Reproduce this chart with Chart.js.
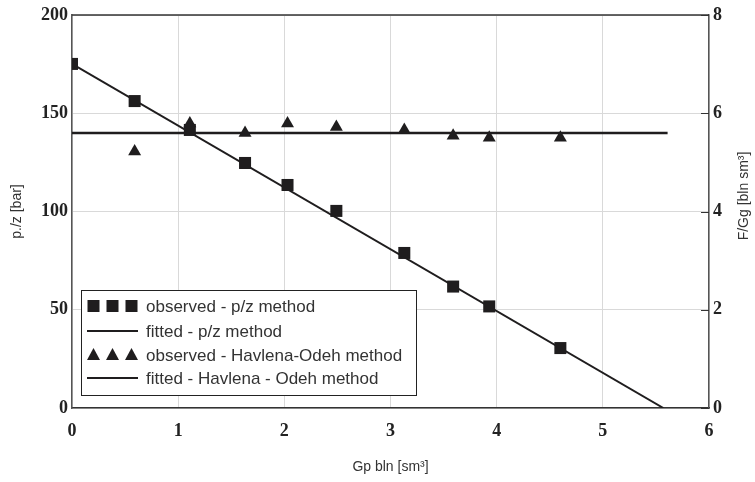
<!DOCTYPE html>
<html>
<head>
<meta charset="utf-8">
<script src="https://cdn.jsdelivr.net/npm/chart.js@4"></script>
<style>
  html, body { margin: 0; padding: 0; background: #fff; }
  #wrap { width: 755px; height: 482px; }
</style>
</head>
<body>
<div id="wrap"><canvas id="myChart" width="755" height="482"></canvas></div>
<script>
// cumulative production Gp [bln sm3]
var gp = [0, 0.59, 1.11, 1.63, 2.03, 2.49, 3.13, 3.59, 3.93, 4.60];
// observed p/z [bar]
var pz = [175.1, 156.2, 141.5, 124.7, 113.5, 100.3, 78.9, 61.8, 51.7, 30.5];
// Havlena-Odeh points (no point at Gp = 0)
var gpHO = [0.59, 1.11, 1.63, 2.03, 2.49, 3.13, 3.59, 3.93, 4.60];
var fgg = [5.22, 5.79, 5.60, 5.79, 5.72, 5.66, 5.54, 5.50, 5.50];
// fitted lines (end points)
var pzFitX = [0, 5.57];
var pzFitY = [175.1, 0];
var hoFitX = [0, 5.61];
var hoFitY = [5.60, 5.60];

var xTicks = [0, 1, 2, 3, 4, 5, 6];
var leftTicks = [0, 50, 100, 150, 200];
var rightTicks = [0, 2, 4, 6, 8];

var ink = '#1f1d1e';
var tickFont = { family: 'Liberation Serif', size: 18, weight: 'bold' };
var titleFont = { family: 'Liberation Sans', size: 14 };

function pairs(xs, ys) {
  return xs.map(function (x, i) { return { x: x, y: ys[i] }; });
}

const data = {
  datasets: [
    {
      label: 'observed - p/z method',
      data: pairs(gp, pz),
      yAxisID: 'y',
      pointStyle: 'rect',
      pointRadius: 8.5,
      backgroundColor: ink,
      borderColor: ink,
      borderWidth: 0,
      showLine: false,
      order: 1
    },
    {
      label: 'fitted - p/z method',
      data: pairs(pzFitX, pzFitY),
      yAxisID: 'y',
      showLine: true,
      pointRadius: 0,
      borderColor: ink,
      borderWidth: 2,
      order: 2
    },
    {
      label: 'observed - Havlena-Odeh method',
      data: pairs(gpHO, fgg),
      yAxisID: 'y2',
      pointStyle: 'triangle',
      pointRadius: 7.5,
      backgroundColor: ink,
      borderColor: ink,
      borderWidth: 0,
      showLine: false,
      order: 1
    },
    {
      label: 'fitted - Havlena - Odeh method',
      data: pairs(hoFitX, hoFitY),
      yAxisID: 'y2',
      showLine: true,
      pointRadius: 0,
      borderColor: ink,
      borderWidth: 2.5,
      order: 2
    }
  ]
};

// frame, inner ticks on right axis, right title and legend box
const extras = {
  id: 'extras',
  afterDraw: function (chart) {
    var c = chart.ctx, a = chart.chartArea;
    var y2 = chart.scales.y2;
    c.save();
    // top frame line
    c.strokeStyle = '#333';
    c.lineWidth = 1.5;
    c.beginPath();
    c.moveTo(a.left, a.top);
    c.lineTo(a.right, a.top);
    c.stroke();
    // short tick marks inside right axis
    c.lineWidth = 1;
    rightTicks.forEach(function (v) {
      var py = Math.round(y2.getPixelForValue(v)) + 0.5;
      c.beginPath();
      c.moveTo(a.right - 8, py);
      c.lineTo(a.right, py);
      c.stroke();
    });
    // right axis title, reading bottom-to-top
    c.fillStyle = '#333';
    c.font = '14px "Liberation Sans"';
    c.textAlign = 'center';
    c.textBaseline = 'middle';
    c.translate(744, 196);
    c.rotate(-Math.PI / 2);
    c.fillText('F/Gg [bln sm³]', 0, 0);
    c.restore();

    // legend
    c.save();
    var bx = 81, by = 290, bw = 335, bh = 105;
    c.fillStyle = '#fff';
    c.fillRect(bx, by, bw, bh);
    c.strokeStyle = '#222';
    c.lineWidth = 1;
    c.strokeRect(bx + 0.5, by + 0.5, bw, bh);
    var rows = [306, 331, 355, 378];
    var cx = [93.5, 112.5, 131.5];
    c.font = '17px "Liberation Sans"';
    c.textAlign = 'left';
    c.textBaseline = 'middle';
    chart.data.datasets.forEach(function (ds, i) {
      var ry = rows[i];
      c.fillStyle = ink;
      c.strokeStyle = ink;
      if (ds.pointStyle === 'rect') {
        cx.forEach(function (x) { c.fillRect(x - 6, ry - 6, 12, 12); });
      } else if (ds.pointStyle === 'triangle') {
        cx.forEach(function (x) {
          c.beginPath();
          c.moveTo(x, ry - 7);
          c.lineTo(x + 6.5, ry + 5);
          c.lineTo(x - 6.5, ry + 5);
          c.closePath();
          c.fill();
        });
      } else {
        c.lineWidth = 2;
        c.beginPath();
        c.moveTo(87, ry);
        c.lineTo(138, ry);
        c.stroke();
      }
      c.fillStyle = '#333';
      c.fillText(ds.label, 146, ry + 1);
    });
    c.restore();
  }
};

const config = {
  type: 'scatter',
  data: data,
  options: {
    responsive: false,
    animation: false,
    layout: { padding: { top: 15, left: 0, right: 0, bottom: 0 } },
    plugins: {
      legend: { display: false },
      tooltip: { enabled: false }
    },
    scales: {
      x: {
        type: 'linear',
        min: 0,
        max: 6,
        afterBuildTicks: function (s) { s.ticks = xTicks.map(function (v) { return { value: v }; }); },
        afterFit: function (s) { s.height = 74; },
        ticks: { font: tickFont, color: '#222', padding: 13 },
        grid: { color: '#d9d9d9', lineWidth: 1, drawTicks: false },
        border: { color: '#333', width: 1.5 },
        title: {
          display: true,
          text: 'Gp bln [sm³]',
          font: titleFont,
          color: '#333',
          padding: { top: 0, bottom: 6 }
        }
      },
      y: {
        position: 'left',
        min: 0,
        max: 200,
        afterBuildTicks: function (s) { s.ticks = leftTicks.map(function (v) { return { value: v }; }); },
        afterFit: function (s) { s.width = 72; },
        ticks: { font: tickFont, color: '#222', padding: 4 },
        grid: { color: '#d9d9d9', lineWidth: 1, drawTicks: false },
        border: { color: '#555', width: 1.5 },
        title: {
          display: true,
          text: 'p./z [bar]',
          font: titleFont,
          color: '#333',
          padding: { top: 9, bottom: 0 }
        }
      },
      y2: {
        position: 'right',
        min: 0,
        max: 8,
        afterBuildTicks: function (s) { s.ticks = rightTicks.map(function (v) { return { value: v }; }); },
        afterFit: function (s) { s.width = 46; },
        ticks: { font: tickFont, color: '#222', padding: 4 },
        grid: { display: false, drawTicks: false },
        border: { color: '#555', width: 1.5 }
      }
    }
  },
  plugins: [extras]
};

var ctx = document.getElementById('myChart');
var myChart = new Chart(ctx, config);
</script>
</body>
</html>
